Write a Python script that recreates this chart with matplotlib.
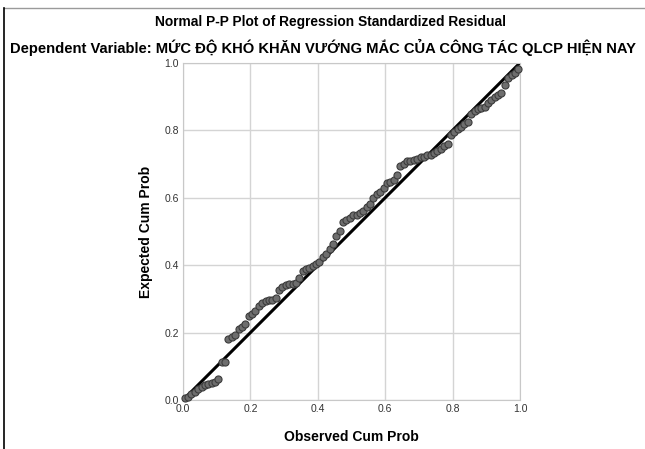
import numpy as np
import matplotlib.pyplot as plt
from matplotlib.lines import Line2D

plt.rcParams['font.family'] = ['Liberation Sans', 'DejaVu Sans']

# observed cum prob (x) and expected cum prob (y)
observed = [0.005, 0.015, 0.025, 0.035, 0.045, 0.055, 0.065, 0.075, 0.085, 0.095,
            0.105, 0.115, 0.125, 0.135, 0.145, 0.155, 0.165, 0.175, 0.185, 0.195,
            0.205, 0.215, 0.225, 0.235, 0.245, 0.255, 0.265, 0.275, 0.285, 0.295,
            0.305, 0.315, 0.325, 0.335, 0.345, 0.355, 0.365, 0.375, 0.385, 0.395,
            0.405, 0.415, 0.425, 0.435, 0.445, 0.455, 0.465, 0.475, 0.485, 0.495,
            0.505, 0.515, 0.525, 0.535, 0.545, 0.555, 0.565, 0.575, 0.585, 0.595,
            0.605, 0.615, 0.625, 0.635, 0.645, 0.655, 0.665, 0.675, 0.685, 0.695,
            0.705, 0.715, 0.725, 0.735, 0.745, 0.755, 0.765, 0.775, 0.785, 0.795,
            0.805, 0.815, 0.825, 0.835, 0.845, 0.855, 0.865, 0.875, 0.885, 0.895,
            0.905, 0.915, 0.925, 0.935, 0.945, 0.955, 0.965, 0.975, 0.985, 0.995]
expected = [0.005, 0.010, 0.018, 0.025, 0.032, 0.038, 0.044, 0.048, 0.050, 0.054,
            0.062, 0.112, 0.114, 0.182, 0.188, 0.192, 0.212, 0.218, 0.226, 0.248,
            0.256, 0.265, 0.280, 0.287, 0.293, 0.296, 0.298, 0.302, 0.326, 0.336,
            0.342, 0.343, 0.345, 0.347, 0.362, 0.382, 0.388, 0.392, 0.398, 0.404,
            0.410, 0.425, 0.432, 0.448, 0.462, 0.488, 0.502, 0.528, 0.534, 0.540,
            0.548, 0.550, 0.554, 0.560, 0.572, 0.582, 0.600, 0.612, 0.618, 0.628,
            0.645, 0.648, 0.652, 0.668, 0.695, 0.700, 0.708, 0.710, 0.712, 0.716,
            0.720, 0.722, 0.726, 0.728, 0.732, 0.740, 0.746, 0.752, 0.760, 0.786,
            0.796, 0.804, 0.810, 0.818, 0.826, 0.848, 0.856, 0.862, 0.866, 0.868,
            0.880, 0.890, 0.898, 0.904, 0.912, 0.935, 0.955, 0.965, 0.970, 0.982]
ticks = [0.0, 0.2, 0.4, 0.6, 0.8, 1.0]

fig = plt.figure(figsize=(6.45, 4.49), dpi=100)
ax = fig.add_axes([0.2837, 0.109, 0.5225, 0.751])

ax.plot([0, 1], [0, 1], color='black', lw=2.2, zorder=2)
ax.scatter(observed, expected, s=26, facecolor='#6e6e6e', edgecolor='#3c3c3c',
           linewidth=0.8, zorder=3, clip_on=False)

ax.set_xlim(0, 1)
ax.set_ylim(0, 1)
ax.set_xticks(ticks)
ax.set_yticks(ticks)
ax.set_xticklabels(['%.1f' % t for t in ticks])
ax.set_yticklabels(['%.1f' % t for t in ticks])
ax.tick_params(length=0, labelsize=7.5, colors='#333333', pad=3)
ax.grid(True, color='#d4d4d4', lw=1)
ax.set_axisbelow(True)
for s in ax.spines.values():
    s.set_color('#c8c8c8')

ax.set_xlabel('Observed Cum Prob', fontsize=10, fontweight='bold', labelpad=11)
ax.set_ylabel('Expected Cum Prob', fontsize=10, fontweight='bold', labelpad=8)

fig.text(0.512, 0.950, 'Normal P-P Plot of Regression Standardized Residual',
         ha='center', va='center', fontsize=9.9, fontweight='bold')
fig.text(0.500, 0.895, 'Dependent Variable: MỨC ĐỘ KHÓ KHĂN VƯỚNG MẮC CỦA CÔNG TÁC QLCP HIỆN NAY',
         ha='center', va='center', fontsize=10.6, fontweight='bold')

# frame of the exported chart
fig.add_artist(Line2D([0.006, 1.0], [0.982, 0.982], color='#9a9a9a', lw=1))
fig.add_artist(Line2D([0.006, 0.006], [0.0, 0.982], color='black', lw=1.2))

fig.savefig('out.png', dpi=100)
